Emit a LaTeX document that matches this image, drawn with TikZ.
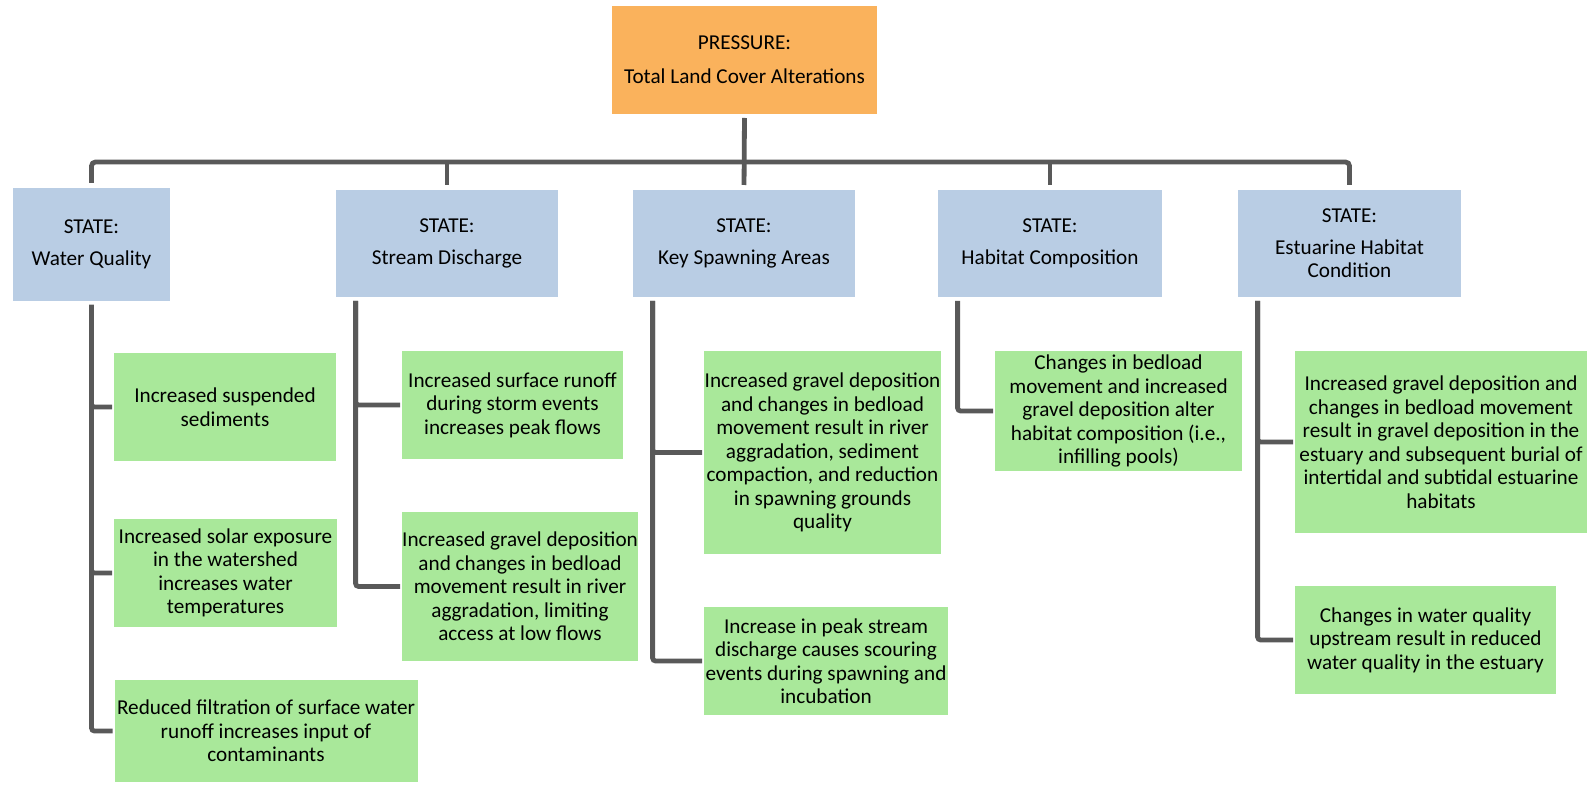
\documentclass[tikz,border=0pt]{standalone}
\usepackage{fontspec}
\setmainfont{Carlito}
\usepackage{tikz}

\definecolor{presscol}{RGB}{250,178,92}
\definecolor{statecol}{RGB}{185,205,228}
\definecolor{effectcol}{RGB}{169,232,154}
\definecolor{linkcol}{RGB}{89,89,89}

\begin{document}
\begin{tikzpicture}[x=0.5pt,y=-0.5pt]
	\tikzstyle{box}=[rectangle,inner sep=0pt,align=center,font=\fontsize{10.6}{11.75}\selectfont]
	\tikzstyle{pressure}=[box,fill=presscol]
	\tikzstyle{state}=[box,fill=statecol]
	\tikzstyle{effect}=[box,fill=effectcol]
	\tikzstyle{link}=[line width=2.4pt,linkcol,line cap=rect]
	\tikzstyle{branch}=[link,rounded corners=1.5pt,shorten <=3pt,shorten >=2pt]
	\useasboundingbox (0,0) rectangle (1594,785);
	% pressure
	\node (pressure) at (744.5,60) [pressure,minimum width=132.5pt,minimum height=54pt]
		{PRESSURE:\\[5.25pt] Total Land Cover Alterations};
	% states
	\node (quality) at (91.5,244.5) [state,minimum width=78.5pt,minimum height=56.5pt]
		{STATE:\\[4pt] Water Quality};
	\node (discharge) at (447,243.5) [state,minimum width=111pt,minimum height=53.5pt]
		{STATE:\\[4pt] Stream Discharge};
	\node (spawning) at (744,243.5) [state,minimum width=111pt,minimum height=53.5pt]
		{STATE:\\[4pt] Key Spawning Areas};
	\node (habitat) at (1050,243.5) [state,minimum width=112pt,minimum height=53.5pt]
		{STATE:\\[4pt] Habitat Composition};
	\node (estuary) at (1349.5,243.5) [state,minimum width=111.5pt,minimum height=53.5pt]
		{STATE:\\[4pt] Estuarine Habitat\\ Condition};
	% effects
	\node (sediment) at (225,407) [effect,minimum width=111pt,minimum height=54pt]
		{Increased suspended\\ sediments};
	\node (solar) at (225.5,573) [effect,minimum width=111.5pt,minimum height=54pt]
		{Increased solar exposure\\ in the watershed\\ increases water\\ temperatures};
	\node (filtration) at (266,731) [effect,minimum width=151.5pt,minimum height=51pt]
		{Reduced filtration of surface water\\ runoff increases input of\\ contaminants};
	\node (runoff) at (512.5,405) [effect,minimum width=110.5pt,minimum height=54pt]
		{Increased surface runoff\\ during storm events\\ increases peak flows};
	\node (limiting) at (520,586.5) [effect,minimum width=118pt,minimum height=74.5pt]
		{Increased gravel deposition\\ and changes in bedload\\ movement result in river\\ aggradation, limiting\\ access at low flows};
	\node (compaction) at (822.5,452.5) [effect,minimum width=118.5pt,minimum height=101.5pt]
		{Increased gravel deposition\\ and changes in bedload\\ movement result in river\\ aggradation, sediment\\ compaction, and reduction\\ in spawning grounds\\ quality};
	\node (scouring) at (826,661) [effect,minimum width=122pt,minimum height=54pt]
		{Increase in peak stream\\ discharge causes scouring\\ events during spawning and\\ incubation};
	\node (infilling) at (1118.5,411) [effect,minimum width=123.5pt,minimum height=60pt]
		{Changes in bedload\\ movement and increased\\ gravel deposition alter\\ habitat composition (i.e.,\\ infilling pools)};
	\node (burial) at (1441,442) [effect,minimum width=146pt,minimum height=91pt]
		{Increased gravel deposition and\\ changes in bedload movement\\ result in gravel deposition in the\\ estuary and subsequent burial of\\ intertidal and subtidal estuarine\\ habitats};
	\node (upstream) at (1425.5,640) [effect,minimum width=130.5pt,minimum height=54pt]
		{Changes in water quality\\ upstream result in reduced\\ water quality in the estuary};
	% tree
	\coordinate (bar) at (744,162);
	\draw [link,rounded corners=2pt,shorten <=3.5pt,shorten >=3.5pt] (quality.north) |- (bar) -| (estuary.north);
	\draw [link,shorten <=3pt,shorten >=3.5pt] (pressure.south) -- (spawning.north);
	\draw [link,shorten >=3.5pt] (bar -| discharge.north) -- (discharge.north);
	\draw [link,shorten >=3.5pt] (bar -| habitat.north) -- (habitat.north);
	% trunks
	\coordinate (dtrunk) at ([xshift=10pt]discharge.south west);
	\coordinate (strunk) at ([xshift=10pt]spawning.south west);
	\coordinate (htrunk) at ([xshift=10pt]habitat.south west);
	\coordinate (etrunk) at ([xshift=10pt]estuary.south west);
	\draw [branch] (quality.south) |- (sediment.west);
	\draw [branch] (quality.south) |- (solar.west);
	\draw [branch] (quality.south) |- (filtration.west);
	\draw [branch] (dtrunk) |- (runoff.west);
	\draw [branch] (dtrunk) |- (limiting.west);
	\draw [branch] (strunk) |- (compaction.west);
	\draw [branch] (strunk) |- (scouring.west);
	\draw [branch] (htrunk) |- (infilling.west);
	\draw [branch] (etrunk) |- (burial.west);
	\draw [branch] (etrunk) |- (upstream.west);
\end{tikzpicture}
\end{document}
